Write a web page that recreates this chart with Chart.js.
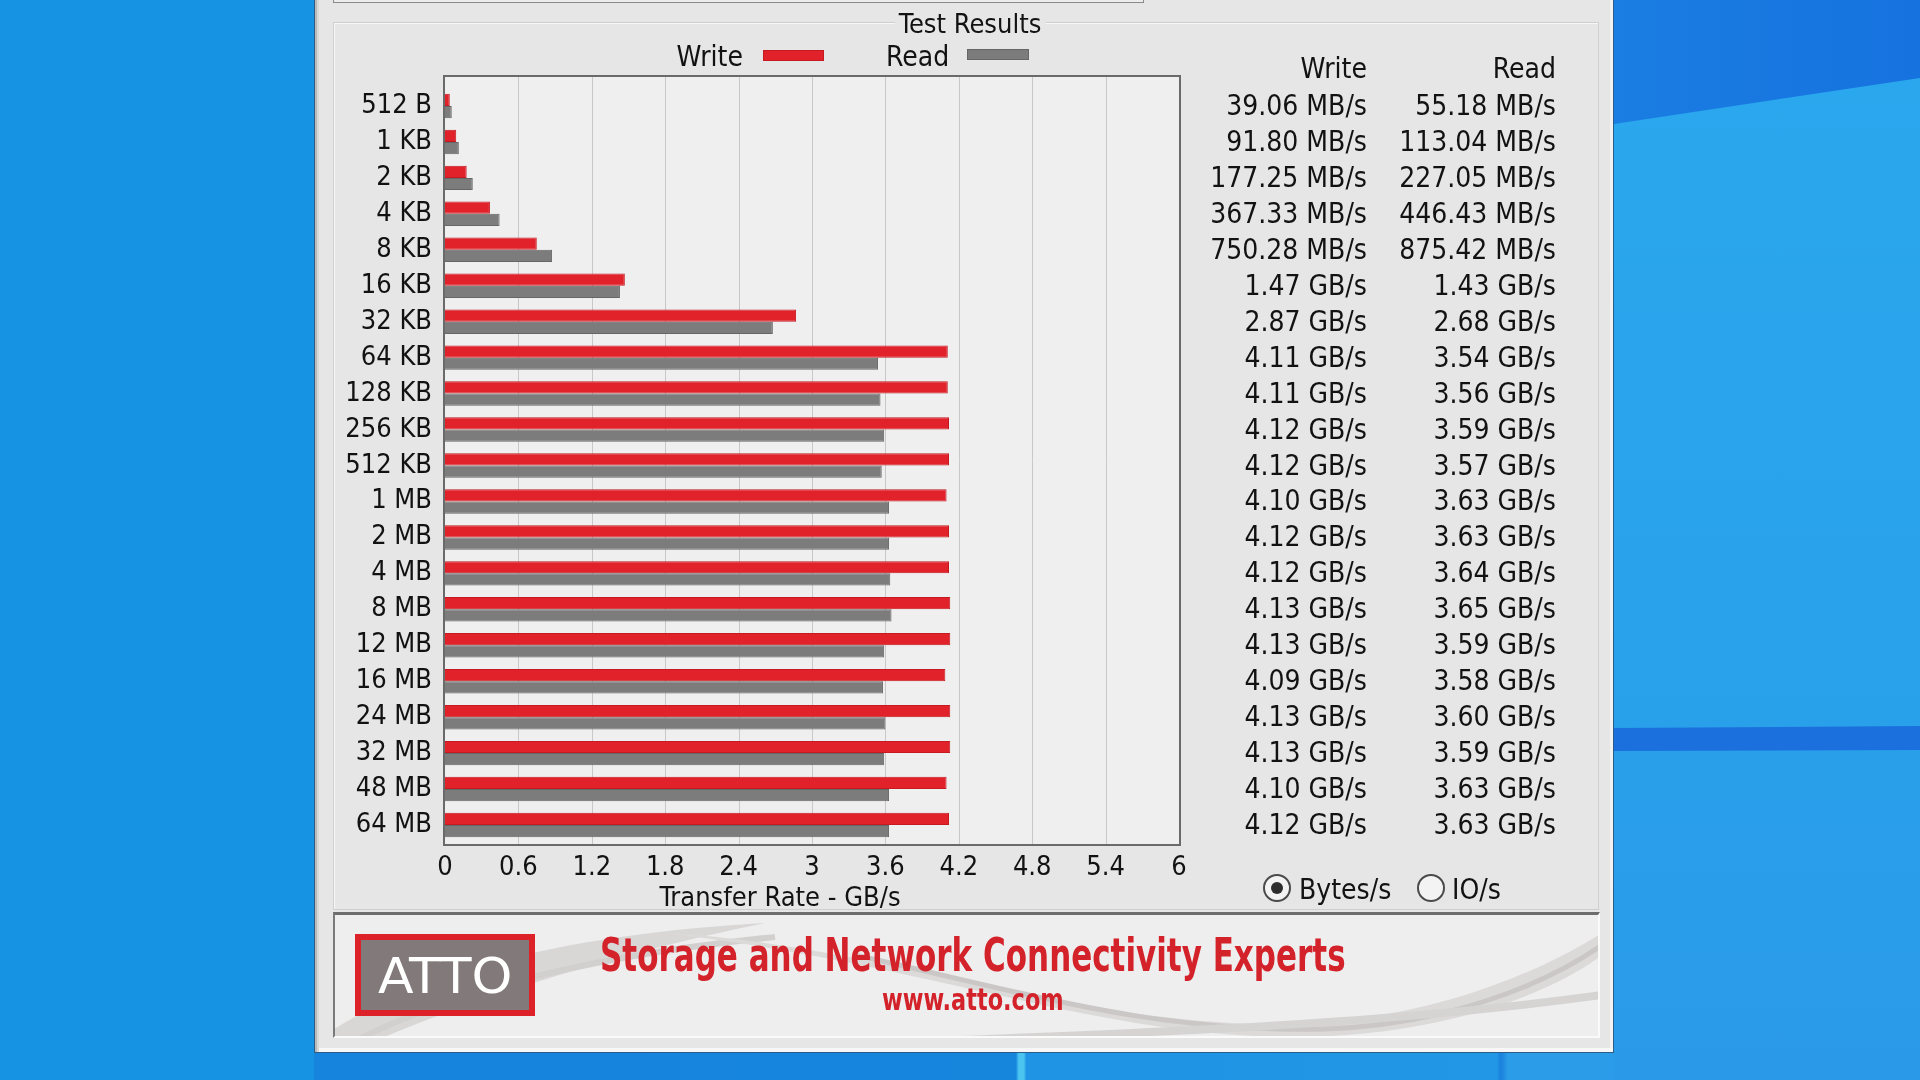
<!DOCTYPE html>
<html>
<head>
<meta charset="utf-8">
<script src="https://cdn.jsdelivr.net/npm/chart.js@4.4.1/dist/chart.umd.min.js"></script>
<style>
  html, body { margin: 0; padding: 0; width: 1920px; height: 1080px; overflow: hidden; }
  body { position: relative; background: linear-gradient(90deg, #1694e3 0%, #1592e2 80%, #1488dc 100%);
         font-family: 'DejaVu Sans Condensed', 'Liberation Sans Narrow', sans-serif; color: #121212; }
  .abs { position: absolute; }
  .txt { position: absolute; white-space: nowrap; font-size: 28px; line-height: 28px; }
  #deskR { left: 1614px; top: 0; width: 306px; height: 1080px; background: linear-gradient(180deg, #2aa8ee 0%, #29a2eb 55%, #2a9ae8 100%); }
  #deskRtop { left: 1614px; top: 0; width: 306px; height: 130px; background: linear-gradient(90deg, #1a7ee2, #1672df);
              clip-path: polygon(0 0, 100% 0, 100% 78px, 0 124px); }
  #deskRband { left: 1614px; top: 726px; width: 306px; height: 25px; background: #1b70dd;
               clip-path: polygon(0 2px, 100% 0, 100% 24px, 0 25px); }
  #deskBot { left: 314px; top: 1053px; width: 1300px; height: 27px;
             background: linear-gradient(90deg, #1683dc 0%, #1686dd 54%, #4cc4f0 54.2%, #4cc4f0 54.6%, #1f93e4 54.8%, #2197e5 91%, #1a7fdc 91.3%, #2a9ce8 91.8%); }
  #win { left: 314px; top: -6px; width: 1300px; height: 1059px; box-sizing: border-box; background: #e6e6e6;
         border: 1px solid #2c5c88; box-shadow: inset 2px 0 0 #b9b9b9, inset 4px 0 0 #d8d8d8, inset 0 -4px 0 #f7f7f7, inset -3px 0 0 #f2f2f2; }
  #topBox { left: 333px; top: -10px; width: 811px; height: 13px; box-sizing: border-box; border: 1px solid #8a8a8a; border-top: none; background: #ececec; }
  #group { left: 333px; top: 22px; width: 1266px; height: 888px; box-sizing: border-box; border: 1px solid #cfcfcf; box-shadow: inset 1px 1px 0 #f7f7f7; }
  #groupLabel { background: #e6e6e6; padding: 0 4px; }
  .swatch { position: absolute; height: 11px; box-sizing: border-box; }
  #banner { left: 333px; top: 912px; width: 1267px; height: 126px; box-sizing: border-box; background: #eeeeee;
            border-top: 3px solid #6d6d6d; border-left: 2px solid #7a7a7a; border-right: 2px solid #fafafa; border-bottom: 2px solid #fafafa; overflow: hidden; }
  #logo { left: 355px; top: 934px; width: 180px; height: 82px; box-sizing: border-box; border: 6px solid #dc2128; background: #81797a; }
  .radio { position: absolute; width: 28px; height: 28px; box-sizing: border-box; border-radius: 50%; border: 2px solid #4a4a4a; background: #f3f3f3; }
  .dot { position: absolute; left: 6px; top: 6px; width: 12px; height: 12px; border-radius: 50%; background: #2e2e2e; }
  canvas { position: absolute; left: 0; top: 0; }
</style>
</head>
<body>
<div class="abs" id="deskR"></div>
<div class="abs" id="deskRtop"></div>
<div class="abs" id="deskRband"></div>
<div class="abs" id="deskBot"></div>
<div class="abs" id="win"></div>
<div class="abs" id="topBox"></div>
<div class="abs" id="group"></div>
<div class="abs" id="banner">
  <svg width="1267" height="126" viewBox="0 0 1267 126">
    <path d="M -10 120 C 80 60, 220 20, 430 8 C 330 28, 170 70, 40 126 Z" fill="#d9d6d6"/>
    <path d="M 20 126 C 120 75, 260 40, 440 22" stroke="#d2cfcf" stroke-width="6" fill="none"/>
    <path d="M 330 18 C 560 30, 760 120, 980 108 C 1100 100, 1200 60, 1267 18 L 1267 40 C 1200 90, 1080 122, 960 122 C 760 122, 600 50, 330 18 Z" fill="#dcd9d9"/>
    <path d="M 520 40 C 700 80, 820 118, 990 114 C 1110 110, 1210 70, 1267 30" stroke="#cbc7c7" stroke-width="5" fill="none"/>
    <path d="M 600 126 C 800 118, 1050 110, 1267 80" stroke="#d6d3d3" stroke-width="8" fill="none"/>
  </svg>
</div>
<div class="abs" id="logo"></div>
<canvas id="myChart" width="1920" height="1080"></canvas>
<script>
// block sizes down the side
const sizes = ["512 B", "1 KB", "2 KB", "4 KB", "8 KB", "16 KB", "32 KB", "64 KB", "128 KB", "256 KB", "512 KB",
  "1 MB", "2 MB", "4 MB", "8 MB", "12 MB", "16 MB", "24 MB", "32 MB", "48 MB", "64 MB"];
// rates in MB/s as shown in the table
const writeRates = [39.06, 91.80, 177.25, 367.33, 750.28, 1470, 2870, 4110, 4110, 4120, 4120,
  4100, 4120, 4120, 4130, 4130, 4090, 4130, 4130, 4100, 4120];
const readRates = [55.18, 113.04, 227.05, 446.43, 875.42, 1430, 2680, 3540, 3560, 3590, 3570,
  3630, 3630, 3640, 3650, 3590, 3580, 3600, 3590, 3630, 3630];
const xTickValues = [0, 0.6, 1.2, 1.8, 2.4, 3, 3.6, 4.2, 4.8, 5.4, 6];
const xTickLabels = ["0", "0.6", "1.2", "1.8", "2.4", "3", "3.6", "4.2", "4.8", "5.4", "6"];

const FONT = "'DejaVu Sans Condensed', 'Liberation Sans Narrow', sans-serif";
const frameTop = 76, frameBottom = 845;

function fmt(v) {
  if (v < 1000) return v.toFixed(2) + " MB/s";
  return (v / 1000).toFixed(2) + " GB/s";
}

function addText(text, x, y, align, style) {
  const d = document.createElement("div");
  d.className = "txt";
  d.textContent = text;
  d.style.left = x + "px";
  d.style.top = y + "px";
  const tx = align == "right" ? "-100%" : align == "center" ? "-50%" : "0";
  d.style.transform = `translate(${tx}, -50%)`;
  if (style) Object.assign(d.style, style);
  document.body.appendChild(d);
  return d;
}

// plot box + grid across the whole frame, border on top of bars
const plotFrame = {
  id: "plotFrame",
  beforeDraw(chart) {
    const ctx = chart.ctx, x = chart.scales.x;
    const l = chart.chartArea.left - 1, r = chart.chartArea.right + 1;
    ctx.save();
    ctx.fillStyle = "#efefef";
    ctx.fillRect(l, frameTop, r - l, frameBottom - frameTop);
    ctx.strokeStyle = "#c8c8c8";
    ctx.lineWidth = 1;
    xTickValues.slice(1, -1).forEach(v => {
      const px = Math.round(x.getPixelForValue(v)) + 0.5;
      ctx.beginPath();
      ctx.moveTo(px, frameTop);
      ctx.lineTo(px, frameBottom);
      ctx.stroke();
    });
    ctx.restore();
  },
  afterDatasetsDraw(chart) {
    const ctx = chart.ctx;
    const l = chart.chartArea.left - 1, r = chart.chartArea.right + 1;
    ctx.save();
    ctx.strokeStyle = "#6a6a6a";
    ctx.lineWidth = 2;
    ctx.strokeRect(l, frameTop, r - l, frameBottom - frameTop);
    ctx.restore();
  }
};

const data = {
  labels: sizes,
  datasets: [
    {
      label: "Write",
      data: writeRates.map(v => v / 1000),
      backgroundColor: "#e2222a",
      borderColor: "#c41a20",
      borderWidth: 1,
    },
    {
      label: "Read",
      data: readRates.map(v => v / 1000),
      backgroundColor: "#7c7c7c",
      borderColor: "#666666",
      borderWidth: 1,
    },
  ],
};

const config = {
  type: "bar",
  data: data,
  plugins: [plotFrame],
  options: {
    indexAxis: "y",
    responsive: false,
    animation: false,
    devicePixelRatio: 1,
    categoryPercentage: 0.68,
    barPercentage: 1.0,
    layout: { padding: { left: 345, right: 741, top: 88, bottom: 165 } },
    plugins: { legend: { display: false }, tooltip: { enabled: false } },
    scales: {
      x: {
        min: 0,
        max: 6,
        afterFit: s => { s.height = 72; },
        afterBuildTicks: s => { s.ticks = xTickValues.map(v => ({ value: v })); },
        grid: { display: false, drawTicks: false },
        border: { display: false },
        ticks: {
          autoSkip: false, maxRotation: 0, padding: 9, color: "#121212",
          font: { family: FONT, size: 27 },
          callback: (v, i) => xTickLabels[i],
        },
      },
      y: {
        afterFit: s => { s.width = 100; },
        grid: { display: false, drawTicks: false },
        border: { display: false },
        ticks: { autoSkip: false, padding: 13, color: "#121212", font: { family: FONT, size: 27 } },
      },
    },
  },
};

const myChart = new Chart(document.getElementById("myChart"), config);

// axis title sits left of the plot centre, as in the app
addText("Transfer Rate - GB/s", 780, 897, "center", { fontSize: "27px" });

// text around the chart
addText("Test Results", 970, 23.5, "center", { fontSize: "27px" }).id = "groupLabel";
addText("Write", 743, 56.5, "right");
addText("Read", 886, 56.5, "left");
const sw1 = document.createElement("div");
sw1.className = "swatch";
Object.assign(sw1.style, { left: "763px", top: "50px", width: "61px", background: "#e2222a", border: "1px solid #c41a20" });
document.body.appendChild(sw1);
const sw2 = document.createElement("div");
sw2.className = "swatch";
Object.assign(sw2.style, { left: "967px", top: "49px", width: "62px", background: "#7c7c7c", border: "1px solid #666" });
document.body.appendChild(sw2);

addText("Write", 1367, 68.5, "right");
addText("Read", 1556, 68.5, "right");
const yScale = myChart.scales.y;
sizes.forEach((s, i) => {
  const y = yScale.getPixelForValue(i);
  addText(fmt(writeRates[i]), 1367, y, "right");
  addText(fmt(readRates[i]), 1556, y, "right");
});

// unit radios
const r1 = document.createElement("div");
r1.className = "radio";
r1.style.left = "1263px"; r1.style.top = "874px";
r1.innerHTML = '<div class="dot"></div>';
document.body.appendChild(r1);
const r2 = document.createElement("div");
r2.className = "radio";
r2.style.left = "1417px"; r2.style.top = "874px";
document.body.appendChild(r2);
addText("Bytes/s", 1299, 889.5, "left");
addText("IO/s", 1452, 889.5, "left");

// banner texts
function fitText(text, x, y, w, style) {
  const d = addText(text, x, y, "left", style);
  d.style.transformOrigin = "0 50%";
  const s = w / d.offsetWidth;
  d.style.transform = `translate(0, -50%) scaleX(${s})`;
  return d;
}
fitText("ATTO", 378, 976, 134, { fontSize: "50px", lineHeight: "50px", color: "#ffffff" });
fitText("Storage and Network Connectivity Experts", 600, 955, 746,
  { fontSize: "46px", lineHeight: "46px", fontWeight: "bold", color: "#d3222a" });
fitText("www.atto.com", 882, 1000, 182, { fontSize: "30px", lineHeight: "30px", fontWeight: "bold", color: "#d3222a" });
</script>
</body>
</html>
